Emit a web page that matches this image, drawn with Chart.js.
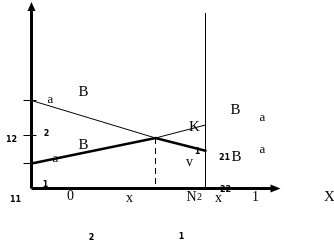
<!DOCTYPE html>
<html>
<head>
<meta charset="utf-8">
<script src="https://cdn.jsdelivr.net/npm/chart.js@4.4.0/dist/chart.umd.min.js"></script>
<style>
  body { margin: 0; background: #fff; }
  #wrap { width: 334px; height: 241px; }
</style>
</head>
<body>
<div id="wrap"><canvas id="chart" width="334" height="241"></canvas></div>
<script>
// DATA (origin at the axis corner, y up)
const thinX = [0, 124, 174];
const thinY = [88, 50.5, 63.5];
const thickX = [0, 124, 175];
const thickY = [25, 50.5, 37.5];
const dropX = [124, 124];
const dropY = [50.5, 0];
const wallX = [174, 174];
const wallY = [0, 175.5];
const tickValues = [88, 53, 25];
const axisTopY = 186.5;
const axisEndX = 249;

// text labels placed in data units
const labels = [
  ['a', 19, 88.5, 'm'], ['B', 52, 96.5, 'L'],
  ['12', -20, 48.5, 's'], ['2', 15, 54.5, 's'],
  ['B', 52, 43.5, 'L'], ['a', 24, 29.5, 'm'],
  ['1', 14, 3.5, 's'], ['11', -16, -11.5, 's'],
  ['0', 39, -7.5, 'n'], ['x', 98, -9.5, 'n'],
  ['N', 160, -8.5, 'n'], ['2', 168, -8.5, 'x'],
  ['x', 187, -9.5, 'n'], ['22', 194, -1.5, 's'],
  ['1', 224, -8.5, 'n'], ['X', 298, -8.5, 'L'],
  ['2', 60, -49.5, 's'], ['1', 150, -48.5, 's'],
  ['K', 163, 61.5, 'L'], ['1', 166, 36.5, 's'],
  ['v', 158, 26.5, 'n'], ['21', 193, 30.5, 's'],
  ['B', 205, 31.5, 'L'], ['B', 204, 78.5, 'L'],
  ['a', 231, 70.5, 'm'], ['a', 231, 38.5, 'm']
];
const fonts = {
  L: '15px "Liberation Serif"',
  n: '14px "Liberation Serif"',
  m: '13px "Liberation Serif"',
  x: '10px "Liberation Serif"',
  s: 'bold 8px "DejaVu Sans"'
};

const pts = (xs, ys) => xs.map((x, i) => ({ x: x, y: ys[i] }));

function seg(data, width, dash) {
  return {
    data: data,
    showLine: true,
    borderColor: '#000',
    borderWidth: width,
    borderDash: dash || [],
    pointRadius: 0,
    fill: false,
    tension: 0
  };
}

const datasets = [
  seg(pts([0, 0], [0, axisTopY - 6]), 3),
  seg(pts([0, axisEndX - 7], [0, 0]), 3),
  seg(pts(thinX, thinY), 1),
  seg(pts(thickX, thickY), 2.5),
  seg(pts(dropX, dropY), 1, [6, 4]),
  seg(pts(wallX, wallY), 1)
];
tickValues.forEach(v => datasets.push(seg(pts([-8, 5], [v, v]), 1)));

// arrowheads and text
const extras = {
  id: 'extras',
  afterDatasetsDraw(chart) {
    const ctx = chart.ctx;
    const sx = chart.scales.x, sy = chart.scales.y;
    const ox = sx.getPixelForValue(0), oy = sy.getPixelForValue(0);
    const ty = sy.getPixelForValue(axisTopY);
    const tx = sx.getPixelForValue(axisEndX);
    ctx.save();
    ctx.fillStyle = '#000';
    ctx.beginPath();
    ctx.moveTo(ox, ty);
    ctx.lineTo(ox - 4, ty + 9);
    ctx.lineTo(ox + 4, ty + 9);
    ctx.closePath();
    ctx.fill();
    ctx.beginPath();
    ctx.moveTo(tx, oy);
    ctx.lineTo(tx - 10, oy - 4);
    ctx.lineTo(tx - 10, oy + 4);
    ctx.closePath();
    ctx.fill();
    ctx.textAlign = 'center';
    ctx.textBaseline = 'middle';
    labels.forEach(l => {
      ctx.font = fonts[l[3]];
      ctx.fillText(l[0], sx.getPixelForValue(l[1]), sy.getPixelForValue(l[2]));
    });
    ctx.restore();
  }
};

new Chart(document.getElementById('chart'), {
  type: 'scatter',
  data: { datasets: datasets },
  options: {
    responsive: false,
    animation: false,
    layout: { padding: 0 },
    plugins: { legend: { display: false }, tooltip: { enabled: false } },
    scales: {
      x: { type: 'linear', min: -31.5, max: 302.5, display: false },
      y: { type: 'linear', min: -52.5, max: 188.5, display: false }
    }
  },
  plugins: [extras]
});
</script>
</body>
</html>
